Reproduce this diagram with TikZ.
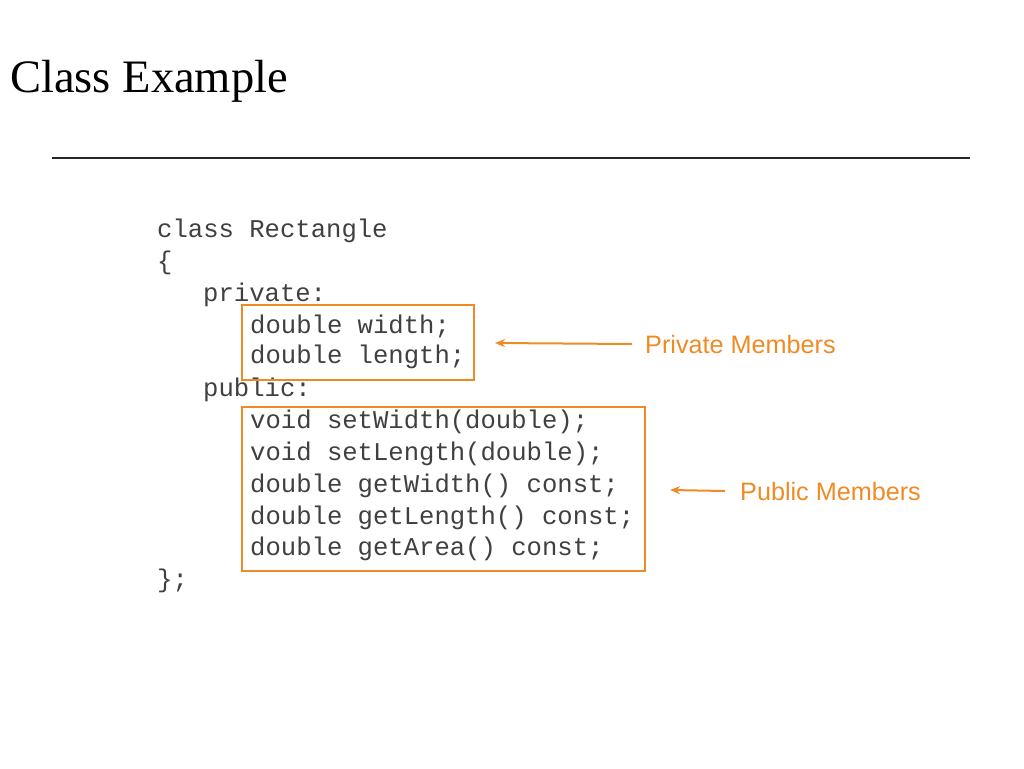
\documentclass[tikz,border=0pt]{standalone}
\usepackage{fontspec}
\setmainfont{Liberation Serif}
\setsansfont{Liberation Sans}
\setmonofont{Liberation Mono}
\usetikzlibrary{arrows.meta}
\definecolor{org}{HTML}{F08A24}
\definecolor{codec}{HTML}{404040}
\begin{document}
\begin{tikzpicture}[x=1pt,y=-1pt,
  code/.style={anchor=west,inner sep=0,text=codec,font=\fontsize{25.6}{29}\ttfamily},
  lab/.style={anchor=west,inner sep=0,text=org,font=\fontsize{25.2}{29}\sffamily},
  box/.style={draw=org,line width=2pt},
  arr/.style={draw=org,line width=2pt,-{Stealth[length=10pt,width=8pt]}}]
\useasboundingbox (0,0) rectangle (1024,768);
\node[anchor=west,inner sep=0,font=\fontsize{46.5}{52}\selectfont] (title) at (10,81) {Class Example};
\coordinate (l1) at (52,158); \coordinate (l2) at (970,158);
\draw[line width=1.2pt,black!85] (l1) -- (l2);
\node[code] (c1) at (157,231) {class Rectangle};
\node[code] (c2) at (157,263) {\{};
\node[code] (c3) at (203,295) {private:};
\node[code] (c4) at (250,326) {double width;};
\node[code] (c5) at (250,357) {double length;};
\node[code] (c6) at (203,390) {public:};
\node[code] (c7) at (250,422) {void setWidth(double);};
\node[code] (c8) at (250,454) {void setLength(double);};
\node[code] (c9) at (250,486) {double getWidth() const;};
\node[code] (c10) at (250,518) {double getLength() const;};
\node[code] (c11) at (250,549) {double getArea() const;};
\node[code] (c12) at (157,581) {\};};
\draw[box] (242,305) rectangle (474,380);
\draw[box] (242,407) rectangle (645,571);
\node[lab] (pm) at (645,344) {Private Members};
\node[lab] (pu) at (740,491) {Public Members};
\coordinate (a1) at (495,343); \coordinate (a2) at (670,490);
\draw[arr] ([xshift=-13pt]pm.west) -- (a1);
\draw[arr] ([xshift=-15pt]pu.west) -- (a2);
\end{tikzpicture}
\end{document}
